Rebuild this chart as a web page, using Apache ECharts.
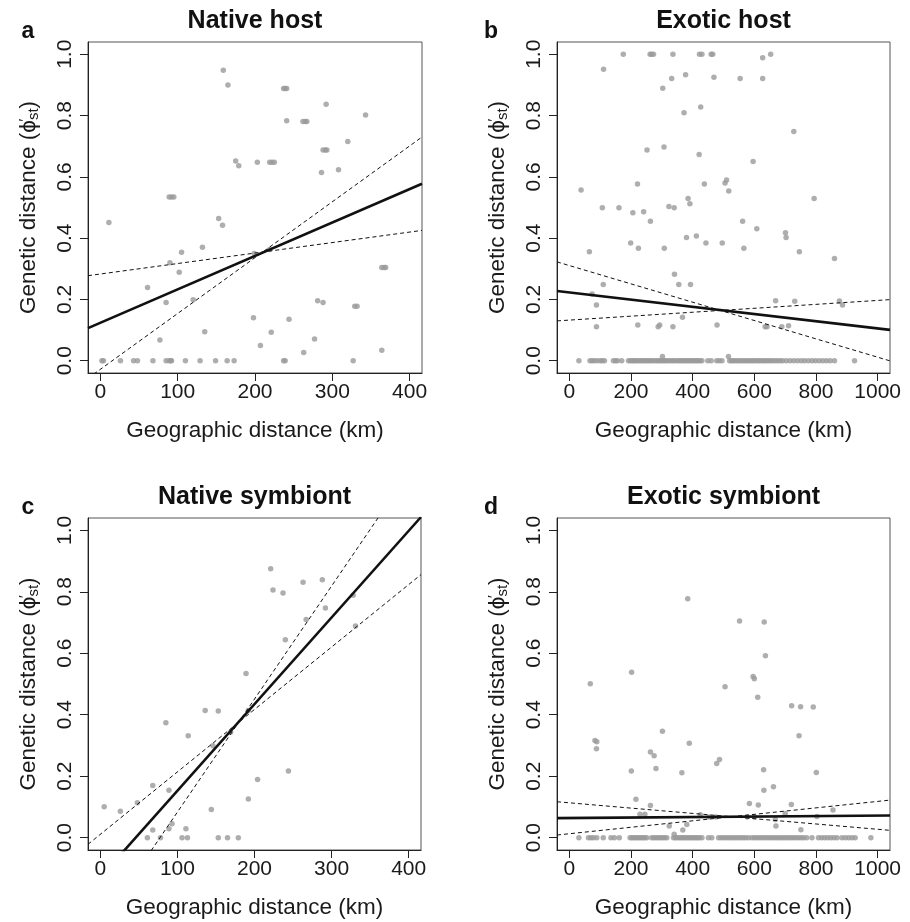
<!DOCTYPE html>
<html>
<head>
<meta charset="utf-8">
<script src="https://cdn.jsdelivr.net/npm/echarts@6/dist/echarts.min.js"></script>
<style>
  html, body { margin: 0; padding: 0; background: #fff; }
  #chart { width: 910px; height: 922px; }
</style>
</head>
<body>
<div id="chart"></div>
<script>
// ---- data ----------------------------------------------------------------
const panelTitles = ['Native host', 'Exotic host', 'Native symbiont', 'Exotic symbiont'];
const panelLetters = ['a', 'b', 'c', 'd'];
const xTicksNative = [0, 100, 200, 300, 400];
const xTicksExotic = [0, 200, 400, 600, 800, 1000];
const yTicks = [0, 0.2, 0.4, 0.6, 0.8, 1.0];
const xRangeNative = [-16, 416];
const xRangeExotic = [-40, 1040];
const yRange = [-0.04, 1.04];

// Native host: pairwise (geographic km, phi'st)
const nativeHostPoints = [
  [11,0.451],[61,0.239],[85,0.190],[77,0.068],[90,0.320],[89,0.534],[92,0.534],[95,0.534],
  [102,0.289],[105,0.354],[120,0.199],[132,0.370],[135,0.095],[153,0.464],[158,0.442],
  [159,0.948],[165,0.900],[175,0.652],[179,0.636],[198,0.140],[199,0.350],[203,0.648],
  [207,0.050],[219,0.363],[221,0.093],[219,0.648],[222,0.648],[225,0.648],[237,0.888],
  [239,0.888],[241,0.888],[241,0.783],[244,0.135],[263,0.027],[262,0.781],[265,0.781],
  [267,0.781],[277,0.071],[281,0.196],[286,0.614],[288,0.190],[288,0.688],[291,0.688],
  [293,0.688],[292,0.837],[308,0.623],[320,0.715],[329,0.178],[332,0.178],[343,0.802],
  [364,0.034],[364,0.304],[367,0.304],[369,0.304]
];
const nativeHostZeroX = [2,4,26,43,48,68,85,89,91,92,110,129,149,164,173,237,239,327];

// Exotic host
const exoticHostPoints = [
  [627,0.989],[111,0.951],[303,0.889],[332,0.921],[377,0.933],[469,0.925],[554,0.921],
  [627,0.921],[372,0.809],[426,0.828],[728,0.748],[252,0.688],[307,0.697],[421,0.673],
  [596,0.650],[38,0.557],[221,0.577],[438,0.577],[505,0.580],[510,0.590],[517,0.554],
  [107,0.499],[161,0.499],[206,0.483],[241,0.486],[323,0.503],[340,0.499],[385,0.529],
  [391,0.512],[794,0.529],[263,0.455],[562,0.455],[608,0.431],[701,0.418],[703,0.402],
  [65,0.356],[199,0.384],[224,0.367],[308,0.367],[380,0.402],[412,0.407],[443,0.384],
  [496,0.384],[566,0.367],[746,0.356],[860,0.334],[110,0.249],[341,0.282],[355,0.249],
  [393,0.249],[74,0.218],[88,0.182],[88,0.111],[222,0.117],[288,0.111],[293,0.117],
  [336,0.111],[367,0.142],[479,0.117],[635,0.111],[641,0.111],[689,0.111],[711,0.114],
  [669,0.196],[731,0.194],[876,0.195],[886,0.182],[302,0.014],[516,0.014]
];
const exoticHostOneX = [175,262,267,273,336,422,430,460,465,653];
const exoticHostZeroX = [
  31,67,74,81,90,100,107,114,143,150,156,170,
  192,198,204,209,214,220,226,232,238,244,250,256,262,268,275,282,288,294,300,306,312,318,
  325,332,338,345,352,358,364,370,376,382,388,394,400,406,412,418,424,430,
  449,460,478,486,495,
  520,526,532,538,545,552,558,565,572,578,585,592,598,605,612,618,625,632,638,645,652,660,
  668,676,684,692,704,716,728,740,752,763,775,787,798,810,822,834,846,860,925
];

// Native symbiont
const nativeSymbiontPoints = [
  [5,0.101],[26,0.086],[48,0.114],[61,0],[68,0.170],[68,0.025],[78,0],[85,0.374],
  [89,0.154],[89,0.029],[93,0.045],[106,0],[111,0.029],[113,0],[114,0.332],[136,0.414],
  [144,0.092],[146,0.299],[153,0.412],[153,0],[165,0],[169,0.343],[179,0],[189,0.534],
  [192,0.126],[192,0.414],[204,0.189],[221,0.875],[224,0.806],[237,0.796],[240,0.644],
  [244,0.217],[263,0.831],[267,0.710],[288,0.839],[292,0.747],[328,0.789],[331,0.689]
];

// Exotic symbiont
const exoticSymbiontPoints = [
  [68,0.501],[83,0.316],[89,0.312],[88,0.289],[202,0.538],[201,0.217],[216,0.125],
  [229,0.076],[245,0.076],[263,0.105],[263,0.279],[275,0.267],[281,0.225],[302,0.346],
  [324,0.038],[340,0.011],[365,0.211],[368,0.025],[381,0.043],[384,0.777],[389,0.307],
  [425,0.075],[453,0.067],[478,0.241],[487,0.254],[476,0.067],[505,0.491],[552,0.705],
  [577,0.067],[584,0.111],[596,0.524],[600,0.517],[601,0.067],[611,0.457],[613,0.106],
  [630,0.221],[631,0.154],[632,0.702],[636,0.592],[662,0.166],[668,0.059],[670,0.038],
  [700,0.078],[720,0.108],[721,0.429],[750,0.426],[745,0.332],[751,0.026],[791,0.425],
  [801,0.212],[803,0.069],[855,0.090]
];
const exoticSymbiontZeroX = [
  31,62,70,78,89,110,135,146,162,197,203,209,215,221,227,233,239,245,251,267,274,281,288,
  295,302,309,316,338,344,350,356,362,368,374,380,386,392,398,404,410,416,422,430,451,462,
  484,492,500,508,516,524,532,540,548,556,564,572,581,592,600,608,616,624,632,640,648,656,
  664,672,680,688,696,704,712,720,728,736,744,752,760,770,787,808,818,828,838,848,858,868,
  884,895,906,917,927,978
];

// Regression fits [intercept, slope] and the two bounding lines
const fitNativeHost = [0.124, 0.00109];
const boundsNativeHost = [[-0.028, 0.001822], [0.283, 0.000342]];
const fitExoticHost = [0.2227, -0.0001173];
const boundsExoticHost = [[0.3106, -0.000299], [0.1326, 0.0000642]];
const fitNativeSymbiont = [-0.129, 0.002818];
const boundsNativeSymbiont = [[-0.2844, 0.003677], [0.011, 0.002031]];
const fitExoticSymbiont = [0.064, 0.000008];
const boundsExoticSymbiont = [[0.1135, -0.0000861], [0.0129, 0.0001052]];

// ---- layout & style -------------------------------------------------------
const FONT = '"Liberation Sans", Arial, Helvetica, sans-serif';
const grids = [
  { left: 88, top: 42, width: 334, height: 331 },
  { left: 557, top: 42, width: 333, height: 331 },
  { left: 88, top: 518, width: 333, height: 332 },
  { left: 557, top: 518, width: 333, height: 332 }
];
const DOT = '#9a9a9a';

const panels = [
  { pts: nativeHostPoints.concat(nativeHostZeroX.map(x => [x, 0])),
    xr: xRangeNative, ticks: xTicksNative, fit: fitNativeHost, bounds: boundsNativeHost },
  { pts: exoticHostPoints.concat(exoticHostOneX.map(x => [x, 1]), exoticHostZeroX.map(x => [x, 0])),
    xr: xRangeExotic, ticks: xTicksExotic, fit: fitExoticHost, bounds: boundsExoticHost },
  { pts: nativeSymbiontPoints,
    xr: xRangeNative, ticks: xTicksNative, fit: fitNativeSymbiont, bounds: boundsNativeSymbiont },
  { pts: exoticSymbiontPoints.concat(exoticSymbiontZeroX.map(x => [x, 0])),
    xr: xRangeExotic, ticks: xTicksExotic, fit: fitExoticSymbiont, bounds: boundsExoticSymbiont }
];

function lineEnds(coef, xr) {
  return [[xr[0], coef[0] + coef[1] * xr[0]], [xr[1], coef[0] + coef[1] * xr[1]]];
}

const xAxes = [], yAxes = [], series = [], titles = [];
panels.forEach((p, i) => {
  const g = grids[i];
  xAxes.push({
    gridIndex: i, type: 'value', min: p.xr[0], max: p.xr[1],
    axisLine: { show: true, onZero: false, lineStyle: { color: '#222', width: 1 } },
    axisTick: { show: true, length: 8, customValues: p.ticks, lineStyle: { color: '#222', width: 1 } },
    axisLabel: { customValues: p.ticks, margin: 9, fontSize: 21, color: '#1a1a1a', fontFamily: FONT,
      formatter: v => String(Math.round(v)) },
    splitLine: { show: false },
    name: 'Geographic distance (km)', nameLocation: 'middle', nameGap: 46,
    nameTextStyle: { fontSize: 22.5, color: '#1a1a1a', fontFamily: FONT }
  });
  yAxes.push({
    gridIndex: i, type: 'value', min: yRange[0], max: yRange[1],
    axisLine: { show: true, onZero: false, lineStyle: { color: '#222', width: 1 } },
    axisTick: { show: true, length: 8, customValues: yTicks, lineStyle: { color: '#222', width: 1 } },
    axisLabel: { customValues: yTicks, rotate: 90, margin: 12, fontSize: 21, color: '#1a1a1a',
      fontFamily: FONT, formatter: v => v.toFixed(1) },
    splitLine: { show: false },
    name: 'Genetic distance ({phi|ϕ}{pr|′}{sub|st})', nameLocation: 'middle', nameGap: 47, nameRotate: 90,
    nameTextStyle: {
      fontSize: 22.5, color: '#1a1a1a', fontFamily: FONT, lineHeight: 24,
      rich: {
        phi: { fontSize: 22.5, fontFamily: FONT, color: '#1a1a1a', lineHeight: 24 },
        pr: { fontSize: 15, fontFamily: FONT, color: '#1a1a1a', lineHeight: 10, verticalAlign: 'top', width: 0 },
        sub: { fontSize: 15, fontFamily: FONT, color: '#1a1a1a', lineHeight: 10, verticalAlign: 'bottom' }
      }
    }
  });
  series.push({
    type: 'scatter', xAxisIndex: i, yAxisIndex: i, data: p.pts,
    symbol: 'circle', symbolSize: 5.5, itemStyle: { color: DOT }, z: 2, silent: true
  });
  p.bounds.forEach(b => series.push({
    type: 'line', xAxisIndex: i, yAxisIndex: i, data: lineEnds(b, p.xr), clip: true,
    symbol: 'none', lineStyle: { color: '#111', width: 1, type: [4, 3] }, z: 3, silent: true
  }));
  series.push({
    type: 'line', xAxisIndex: i, yAxisIndex: i, data: lineEnds(p.fit, p.xr), clip: true,
    symbol: 'none', lineStyle: { color: '#111', width: 2.6 }, z: 4, silent: true
  });
  const titleTop = i < 2 ? 9 : 485;
  titles.push({
    text: panelTitles[i], left: g.left + g.width / 2, top: titleTop, textAlign: 'center', padding: 0,
    textStyle: { fontSize: 25, fontWeight: 'bold', color: '#111', fontFamily: FONT }
  });
  titles.push({
    text: panelLetters[i], left: (i % 2 === 0 ? 28 : 491), top: titleTop + 11, textAlign: 'center', padding: 0,
    textStyle: { fontSize: 23, fontWeight: 'bold', color: '#111', fontFamily: FONT }
  });
});

const chart = echarts.init(document.getElementById('chart'), null, { renderer: 'canvas' });
chart.setOption({
  animation: false,
  backgroundColor: '#fff',
  title: titles,
  grid: grids.map(g => Object.assign({ show: true, borderColor: '#555', borderWidth: 1,
    backgroundColor: 'transparent', containLabel: false }, g)),
  xAxis: xAxes,
  yAxis: yAxes,
  series: series
});
</script>
</body>
</html>
